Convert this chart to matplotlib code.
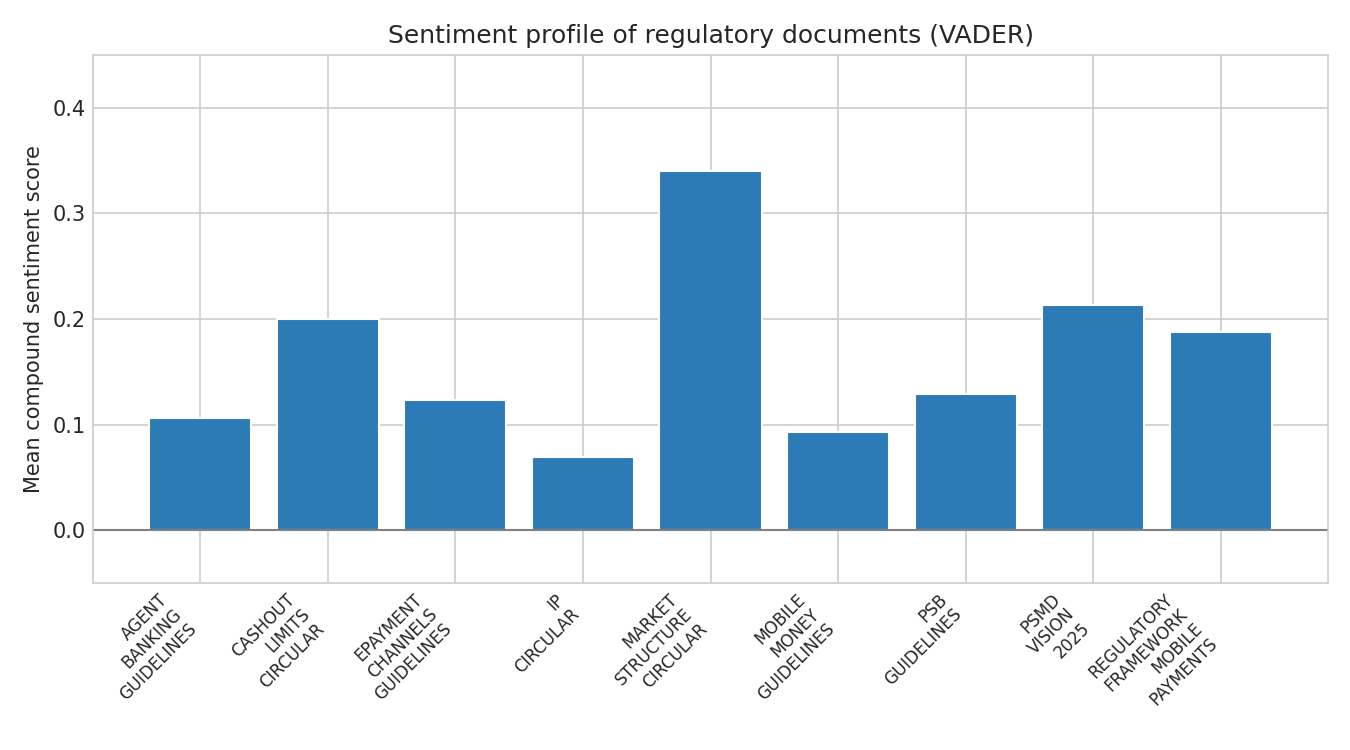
import numpy as np
import matplotlib
matplotlib.use("Agg")
import matplotlib.pyplot as plt
import seaborn as sns

# document names and mean VADER compound scores
documents = [
    "AGENT_BANKING_GUIDELINES",
    "CASHOUT_LIMITS_CIRCULAR",
    "EPAYMENT_CHANNELS_GUIDELINES",
    "IP_CIRCULAR",
    "MARKET_STRUCTURE_CIRCULAR",
    "MOBILE_MONEY_GUIDELINES",
    "PSB_GUIDELINES",
    "PSMD_VISION_2025",
    "REGULATORY_FRAMEWORK_MOBILE_PAYMENTS",
]
mean_compound = [0.106, 0.200, 0.123, 0.069, 0.340, 0.093, 0.129, 0.213, 0.188]

sns.set_style("whitegrid")
# no tick marks, labels sit close to the axes
plt.rcParams["xtick.major.size"] = 0
plt.rcParams["ytick.major.size"] = 0

fig, ax = plt.subplots(figsize=(9, 5), dpi=150)
x = np.arange(len(documents))
ax.bar(x, mean_compound, color="#2c7bb6")
ax.axhline(0, color="gray", linewidth=1)

ax.set_xticks(x)
ax.set_xticklabels([d.replace("_", "\n") for d in documents],
                   rotation=45, ha="right", fontsize=8)
ax.set_ylim(-0.05, 0.45)
ax.set_ylabel("Mean compound sentiment score")
ax.set_title("Sentiment profile of regulatory documents (VADER)")

# axes box placed to match the original layout
fig.subplots_adjust(left=93 / 1350, right=1328 / 1350,
                    top=1 - 55 / 750, bottom=1 - 583 / 750)
plt.savefig("out.png", dpi=150)
